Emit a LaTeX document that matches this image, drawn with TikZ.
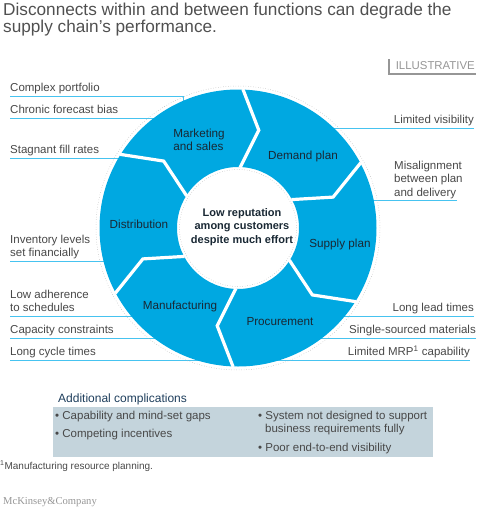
\documentclass[tikz,border=0pt]{standalone}
\usepackage{fontspec}
\setmainfont{Liberation Sans}
\newfontfamily\mkserif{Liberation Serif}
\definecolor{ringblue}{RGB}{0,168,225}
\definecolor{ulblue}{RGB}{70,195,240}
\definecolor{txtgray}{RGB}{72,72,72}
\definecolor{titlegray}{RGB}{80,80,80}
\definecolor{segtxt}{RGB}{25,40,52}
\definecolor{dotgray}{RGB}{175,175,175}
\definecolor{boxfill}{RGB}{196,212,220}
\definecolor{headblue}{RGB}{30,62,92}
\definecolor{lightgray}{RGB}{150,150,150}
\begin{document}
\begin{tikzpicture}[x=1pt,y=-1pt,
  lbl/.style={font=\fontsize{11.5}{13.4}\selectfont, text=txtgray, inner sep=0pt, align=left},
  lblr/.style={lbl, align=right},
  ul/.style={draw=ulblue, line width=0.9pt},
  seg/.style={font=\fontsize{11.7}{13.6}\selectfont, text=segtxt, inner sep=0pt, align=left},
  gapline/.style={draw=white, line width=3.2pt, line join=miter},
  dotline/.style={draw=dotgray, dotted, line width=0.5pt}]
\useasboundingbox (0,0) rectangle (484,512);

% title
\node[anchor=base west, inner sep=0pt, align=left, text=titlegray,
  font=\fontsize{17.2}{17}\selectfont] (title) at (3,32.7)
  {Disconnects within and between functions can degrade the\\supply chain’s performance.};

% illustrative tag
\node[anchor=base east, inner sep=0pt, text=lightgray, font=\fontsize{11.4}{13}\selectfont] (illu) at (475,69) {ILLUSTRATIVE};
\coordinate (ilA) at (389,59);
\coordinate (ilB) at (389,74);
\coordinate (ilC) at (476,74);
\draw[lightgray, line width=1.1pt] (ilA) -- (ilB) -- (ilC);

% left labels
\node[lbl, anchor=base west] (l1) at (10,91.5) {Complex portfolio};
\node[lbl, anchor=base west] (l2) at (10,113.5) {Chronic forecast bias};
\node[lbl, anchor=base west] (l3) at (10,153.5) {Stagnant fill rates};
\node[lbl, anchor=base west] (l4) at (10,256.7) {Inventory levels\\set financially};
\node[lbl, anchor=base west] (l5) at (10,311.7) {Low adherence\\to schedules};
\node[lbl, anchor=base west] (l6) at (10,333.5) {Capacity constraints};
\node[lbl, anchor=base west] (l7) at (10,355.5) {Long cycle times};

\coordinate (l1a) at (10,96);  \coordinate (l1b) at (183,96); \coordinate (l1c) at (183,106);
\coordinate (l2a) at (10,118); \coordinate (l2b) at (160,118);
\coordinate (l3a) at (10,158); \coordinate (l3b) at (125,158);
\coordinate (l4a) at (10,261); \coordinate (l4b) at (110,261);
\coordinate (l5a) at (10,316); \coordinate (l5b) at (138,316);
\coordinate (l6a) at (10,338); \coordinate (l6b) at (160,338);
\coordinate (l7a) at (10,360); \coordinate (l7b) at (205,360);
\draw[ul] (l1a) -- (l1b) -- (l1c);
\draw[ul] (l2a) -- (l2b);
\draw[ul] (l3a) -- (l3b);
\draw[ul] (l4a) -- (l4b);
\draw[ul] (l5a) -- (l5b);
\draw[ul] (l6a) -- (l6b);
\draw[ul] (l7a) -- (l7b);

% right labels
\node[lblr, anchor=base east] (r1) at (474,123.5) {Limited visibility};
\node[lbl, anchor=base west] (r2) at (394,196.2) {Misalignment\\between plan\\and delivery};
\node[lblr, anchor=base east] (r3) at (474,311.5) {Long lead times};
\node[lblr, anchor=base east] (r4) at (476,333.5) {Single-sourced materials};
\node[lblr, anchor=base east] (r5) at (470,355.5) {Limited MRP\textsuperscript{1} capability};

\coordinate (r1a) at (474,128); \coordinate (r1b) at (327,128);
\coordinate (r2a) at (457,200); \coordinate (r2b) at (367,200);
\coordinate (r3a) at (474,316); \coordinate (r3b) at (338,316);
\coordinate (r4a) at (476,338); \coordinate (r4b) at (315,338);
\coordinate (r5a) at (470,360); \coordinate (r5b) at (272,360);
\draw[ul] (r1a) -- (r1b);
\draw[ul] (r2a) -- (r2b);
\draw[ul] (r3a) -- (r3b);
\draw[ul] (r4a) -- (r4b);
\draw[ul] (r5a) -- (r5b);

% ring
\begin{scope}[shift={(238,228)}, y=1pt]
  \fill[ringblue, even odd rule] (0,0) circle[radius=138.5] (0,0) circle[radius=61];
  \foreach \a [evaluate=\a as \b using \a-10] in {88,28,-32,-92,-152,148}
    \draw[gapline] (\a:139) -- (\b:100) -- (\a:60.5);
  \draw[dotline] (0,0) circle[radius=142];
  \draw[dotline] (0,0) circle[radius=58.5];
\end{scope}

% segment labels
\node[seg] (mkt) at (199,140) {Marketing\\and sales};
\node[seg] (dem) at (303,156) {Demand plan};
\node[seg] (sup) at (340,244) {Supply plan};
\node[seg] (pro) at (280,322) {Procurement};
\node[seg] (man) at (180,306) {Manufacturing};
\node[seg] (dis) at (139,224) {Distribution};
\node[inner sep=0pt, align=center, text=segtxt, font=\bfseries\fontsize{11}{13.5}\selectfont] (hub) at (242,227)
  {Low reputation\\among customers\\despite much effort};

% additional complications
\node[anchor=base west, inner sep=0pt, text=headblue, font=\fontsize{12}{14}\selectfont] (addh) at (58,402.3) {Additional complications};
\fill[boxfill] (53,407) rectangle (433,457);
\node[lbl, anchor=base west] (b1) at (55,419) {\textbullet\ Capability and mind-set gaps};
\node[lbl, anchor=base west] (b2) at (55,437.5) {\textbullet\ Competing incentives};
\node[lbl, anchor=base west] (b3) at (258,419) {\textbullet\ System not designed to support};
\node[lbl, anchor=base west] (b4) at (265,432.3) {business requirements fully};
\node[lbl, anchor=base west] (b5) at (258,451.7) {\textbullet\ Poor end-to-end visibility};

% footnote and logo
\node[anchor=base west, inner sep=0pt, text=txtgray, font=\fontsize{10}{12}\selectfont] (foot) at (0,469)
  {\textsuperscript{1}Manufacturing resource planning.};
\node[anchor=base west, inner sep=0pt, text=lightgray, font=\mkserif\fontsize{10.6}{12}\selectfont] (logo) at (3,504)
  {McKinsey\&Company};
\end{tikzpicture}
\end{document}
